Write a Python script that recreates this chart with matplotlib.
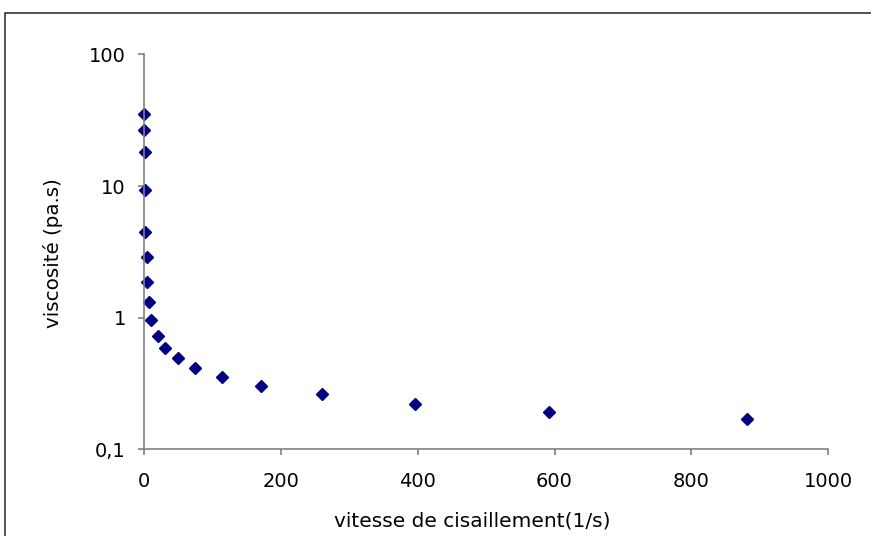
import numpy as np
import matplotlib.pyplot as plt
from matplotlib.patches import Rectangle
from matplotlib.ticker import FixedLocator, FuncFormatter, NullLocator

plt.rcParams['font.family'] = ['DejaVu Sans']

# shear rate (1/s) and viscosity (Pa.s)
shear_rate = [0.1, 0.2, 0.4, 0.8, 1.5, 4.4, 3.5, 7.3, 10.2, 20.5, 31, 50, 74,
              114, 171, 260, 396, 592, 882]
viscosity = [35.2, 26.6, 18.2, 9.33, 4.50, 2.87, 1.88, 1.32, 0.96, 0.726,
             0.592, 0.497, 0.417, 0.353, 0.303, 0.264, 0.221, 0.192, 0.170]

x_ticks = [0, 200, 400, 600, 800, 1000]
y_ticks = [0.1, 1, 10, 100]

W, H = 871, 536
fig = plt.figure(figsize=(W / 100, H / 100), dpi=100)
ax = fig.add_axes([144.3 / W, 1 - 449.4 / H, (828 - 144.3) / W, (449.4 - 54.3) / H])

ax.plot(shear_rate, viscosity, linestyle='none', marker='D', markersize=6,
        color='#000080', clip_on=False)

ax.set_yscale('log')
ax.set_xlim(0, 1000)
ax.set_ylim(0.1, 100)
ax.xaxis.set_major_locator(FixedLocator(x_ticks))
ax.yaxis.set_major_locator(FixedLocator(y_ticks))
ax.yaxis.set_minor_locator(NullLocator())
ax.yaxis.set_major_formatter(FuncFormatter(lambda v, p: ('%g' % v).replace('.', ',')))

for s in ['top', 'right']:
    ax.spines[s].set_visible(False)
for s in ['left', 'bottom']:
    ax.spines[s].set_color('#808080')
    ax.spines[s].set_linewidth(1.2)
ax.tick_params(axis='both', direction='out', length=4.3, width=1.2, color='#808080',
               labelsize=14)
ax.tick_params(axis='x', pad=12)
ax.tick_params(axis='y', pad=9)

fig.text(472 / W, 1 - 521 / H, 'vitesse de cisaillement(1/s)', fontsize=14.5,
         ha='center', va='center')
fig.text(53 / W, 1 - 253 / H, 'viscosité (pa.s)', fontsize=14.3,
         ha='center', va='center', rotation=90)

# outer chart frame
fig.patches.append(Rectangle((5 / W, -0.1), 1.0, 1 - 13 / H + 0.1,
                             transform=fig.transFigure, fill=False,
                             edgecolor='#333333', linewidth=1.2))

fig.savefig('out.png', dpi=100)
